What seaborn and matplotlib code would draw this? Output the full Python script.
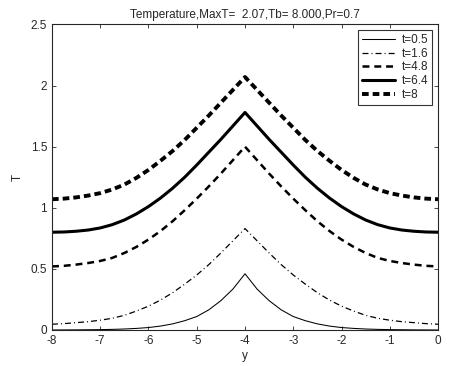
import numpy as np
import pandas as pd
import matplotlib
matplotlib.use("Agg")
import matplotlib.pyplot as plt
import seaborn as sns

# positions along y
y_pos = [-8, -7.75, -7.5, -7.25, -7, -6.75, -6.5, -6.25, -6, -5.75, -5.5,
         -5.25, -5, -4.75, -4.5, -4.25, -4, -3.75, -3.5, -3.25, -3, -2.75,
         -2.5, -2.25, -2, -1.75, -1.5, -1.25, -1, -0.75, -0.5, -0.25, 0]

# temperature profiles
T_05 = [0.0, 0.0005, 0.001, 0.002, 0.003, 0.005, 0.008, 0.013, 0.02, 0.032, 0.05,
        0.076, 0.11, 0.165, 0.24, 0.335, 0.46, 0.335, 0.24, 0.165, 0.11, 0.076,
        0.05, 0.032, 0.02, 0.013, 0.008, 0.005, 0.003, 0.002, 0.001, 0.0005, 0.0]
T_16 = [0.047, 0.052, 0.06, 0.068, 0.08, 0.096, 0.12, 0.155, 0.195, 0.245, 0.305,
        0.375, 0.45, 0.535, 0.63, 0.73, 0.83, 0.73, 0.63, 0.535, 0.45, 0.375,
        0.305, 0.245, 0.195, 0.155, 0.12, 0.096, 0.08, 0.068, 0.06, 0.052, 0.047]
T_48 = [0.52, 0.525, 0.535, 0.548, 0.565, 0.59, 0.63, 0.68, 0.74, 0.81, 0.89,
        0.98, 1.075, 1.175, 1.28, 1.39, 1.5, 1.39, 1.28, 1.175, 1.075, 0.98,
        0.89, 0.81, 0.74, 0.68, 0.63, 0.59, 0.565, 0.548, 0.535, 0.525, 0.52]
T_64 = [0.8, 0.802, 0.808, 0.818, 0.835, 0.862, 0.9, 0.95, 1.01, 1.08, 1.16,
        1.25, 1.35, 1.455, 1.56, 1.67, 1.78, 1.67, 1.56, 1.455, 1.35, 1.25,
        1.16, 1.08, 1.01, 0.95, 0.9, 0.862, 0.835, 0.818, 0.808, 0.802, 0.8]
T_8 = [1.07, 1.075, 1.085, 1.1, 1.12, 1.15, 1.19, 1.245, 1.31, 1.385, 1.465,
       1.555, 1.655, 1.755, 1.86, 1.965, 2.07, 1.965, 1.86, 1.755, 1.655, 1.555,
       1.465, 1.385, 1.31, 1.245, 1.19, 1.15, 1.12, 1.1, 1.085, 1.075, 1.07]

labels = ['t=0.5', 't=1.6', 't=4.8', 't=6.4', 't=8']
series = [T_05, T_16, T_48, T_64, T_8]

sns.set_style("ticks")
plt.rcParams['font.family'] = ['Liberation Sans', 'DejaVu Sans']
plt.rcParams['axes.unicode_minus'] = False
plt.rcParams['xtick.direction'] = 'in'
plt.rcParams['ytick.direction'] = 'in'
plt.rcParams['lines.scale_dashes'] = False

fig = plt.figure(figsize=(4.54, 3.66), dpi=100)
ax = fig.add_axes([0.1145, 0.0984, 0.8503, 0.8347])

# line width and dash pattern (points) for each curve
styles = [
    (0.75, None),
    (0.9, (4.3, 2.2, 0.7, 2.2)),
    (1.8, (5, 3.5)),
    (2.2, None),
    (2.8, (4.8, 2.9)),
]

for lab, vals, (lw, dash) in zip(labels, series, styles):
    df = pd.DataFrame({'y': y_pos, 'T': vals})
    sns.lineplot(data=df, x='y', y='T', ax=ax, color='black',
                 linewidth=lw, label=lab)
    if dash is not None:
        ax.get_lines()[-1].set_dashes(dash)

ax.set_xlim(-8, 0)
ax.set_ylim(0, 2.5)
ax.set_xticks(np.arange(-8, 1, 1))
ax.set_yticks([0, 0.5, 1, 1.5, 2, 2.5])
ax.set_yticklabels(['0', '0.5', '1', '1.5', '2', '2.5'])
ax.tick_params(labelsize=8.5, top=True, right=True, length=3, width=0.6)
for s in ax.spines.values():
    s.set_linewidth(0.8)
ax.set_xlabel('y', fontsize=8.5, labelpad=2)
ax.set_ylabel('T', fontsize=8.5, labelpad=5)
ax.set_title('Temperature,MaxT=  2.07,Tb= 8.000,Pr=0.7', fontsize=8.5, pad=5)

leg = ax.legend(loc='upper right', fontsize=8.5, frameon=True, fancybox=False,
                edgecolor='black', handlelength=2.8, borderaxespad=0.5,
                labelspacing=0.15, handletextpad=0.6, borderpad=0.3)
leg.get_frame().set_linewidth(0.8)

fig.savefig('out.png', dpi=100)
